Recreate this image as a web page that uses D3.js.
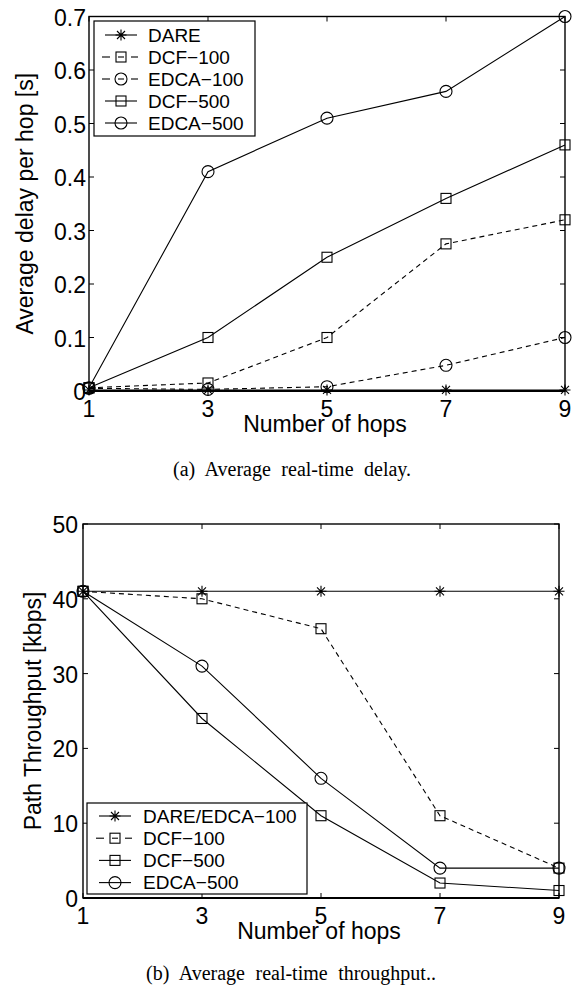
<!DOCTYPE html>
<html>
<head>
<meta charset="utf-8">
<script src="https://cdn.jsdelivr.net/npm/d3@7"></script>
<style>
  html, body { margin: 0; padding: 0; background: #fff; }
  svg { display: block; }
</style>
</head>
<body>
<svg id="fig" width="580" height="990"></svg>
<script>
// ---- data -------------------------------------------------------------
const hops = [1, 3, 5, 7, 9];

// (a) average delay per hop [s]
const delayDARE    = [0.002, 0.002, 0.002, 0.002, 0.002];
const delayDCF100  = [0.006, 0.015, 0.100, 0.275, 0.320];
const delayEDCA100 = [0.005, 0.003, 0.008, 0.048, 0.100];
const delayDCF500  = [0.006, 0.100, 0.250, 0.360, 0.460];
const delayEDCA500 = [0.006, 0.410, 0.510, 0.560, 0.700];
const delayTicks   = [0, 0.1, 0.2, 0.3, 0.4, 0.5, 0.6, 0.7];

// (b) path throughput [kbps]
const thrDARE    = [41, 41, 41, 41, 41];
const thrDCF100  = [41, 40, 36, 11, 4];
const thrDCF500  = [41, 24, 11, 2, 1];
const thrEDCA500 = [41, 31, 16, 4, 4];
const thrTicks   = [0, 10, 20, 30, 40, 50];

// ---- drawing helpers --------------------------------------------------
const SANS = "'Liberation Sans', Arial, Helvetica, sans-serif";
const SERIF = "'Liberation Serif', 'Times New Roman', Times, serif";
const svg = d3.select("#fig");

function marker(g, type, x, y) {
  const m = g.append("g").attr("transform", `translate(${x},${y})`)
    .attr("fill", "none").attr("stroke", "#000").attr("stroke-width", 1.1);
  if (type === "square") {
    m.append("rect").attr("x", -5).attr("y", -5).attr("width", 10).attr("height", 10);
  } else if (type === "circle") {
    m.append("circle").attr("r", 6);
  } else if (type === "star") {
    const a = 5.5, d = 4;
    m.append("path").attr("d",
      `M${-a},0H${a}M0,${-a}V${a}M${-d},${-d}L${d},${d}M${-d},${d}L${d},${-d}`);
  }
}

function panel(opt) {
  const x = d3.scaleLinear().domain([1, 9]).range([opt.left, opt.right]);
  const y = d3.scaleLinear().domain(opt.yDomain).range([opt.bottom, opt.top]);
  const g = svg.append("g");

  // series
  const line = d3.line().x((d, i) => x(hops[i])).y(d => y(d));
  opt.series.forEach(s => {
    g.append("path").datum(s.values).attr("d", line)
      .attr("fill", "none").attr("stroke", "#000").attr("stroke-width", 1.1)
      .attr("stroke-dasharray", s.dashed ? "5,4" : null);
    s.values.forEach((v, i) => marker(g, s.marker, x(hops[i]), y(v)));
  });

  // box with inward ticks on all four sides
  const tl = 5;
  const ax = svg.append("g").attr("stroke", "#000").attr("fill", "none");
  ax.append("rect").attr("x", opt.left).attr("y", opt.top)
    .attr("width", opt.right - opt.left).attr("height", opt.bottom - opt.top)
    .attr("stroke-width", 1.4);
  ax.append("line").attr("x1", opt.left).attr("x2", opt.right)
    .attr("y1", opt.bottom).attr("y2", opt.bottom).attr("stroke-width", 2);
  hops.forEach(h => {
    ax.append("line").attr("x1", x(h)).attr("x2", x(h))
      .attr("y1", opt.bottom).attr("y2", opt.bottom - tl).attr("stroke-width", 1);
    ax.append("line").attr("x1", x(h)).attr("x2", x(h))
      .attr("y1", opt.top).attr("y2", opt.top + tl).attr("stroke-width", 1);
  });
  opt.yTicks.forEach(t => {
    ax.append("line").attr("x1", opt.left).attr("x2", opt.left + tl)
      .attr("y1", y(t)).attr("y2", y(t)).attr("stroke-width", 1);
    ax.append("line").attr("x1", opt.right).attr("x2", opt.right - tl)
      .attr("y1", y(t)).attr("y2", y(t)).attr("stroke-width", 1);
  });

  // tick labels
  const lab = svg.append("g").attr("font-family", SANS).attr("font-size", 23).attr("fill", "#000");
  hops.forEach(h => lab.append("text").attr("x", x(h)).attr("y", opt.bottom + 25.5)
    .attr("text-anchor", "middle").text(h));
  opt.yTicks.forEach(t => lab.append("text").attr("x", opt.left - opt.yLabelGap)
    .attr("y", y(t) + 9).attr("text-anchor", "end").text(String(t)));

  // axis titles
  lab.append("text").attr("x", (opt.left + opt.right) / 2 - 2).attr("y", opt.bottom + 41)
    .attr("text-anchor", "middle").text("Number of hops");
  lab.append("text")
    .attr("transform", `translate(${opt.yTitleX},${(opt.top + opt.bottom) / 2}) rotate(-90)`)
    .attr("text-anchor", "middle").text(opt.yTitle);

  // legend
  const L = opt.legend;
  const lg = svg.append("g");
  lg.append("rect").attr("x", L.x0).attr("y", L.y0).attr("width", L.x1 - L.x0)
    .attr("height", L.y1 - L.y0).attr("fill", "#fff").attr("stroke", "#000").attr("stroke-width", 1.2);
  opt.series.forEach((s, i) => {
    const cy = L.firstY + i * L.step;
    if (s.dashed) {
      [[L.lineX0 - 3, L.lineX0 + 5], [L.markX - 3, L.markX + 3], [L.lineX1 - 6, L.lineX1 + 1]]
        .forEach(p => lg.append("line").attr("x1", p[0]).attr("x2", p[1]).attr("y1", cy).attr("y2", cy)
          .attr("stroke", "#000").attr("stroke-width", 1.1));
    } else {
      lg.append("line").attr("x1", L.lineX0).attr("x2", L.lineX1).attr("y1", cy).attr("y2", cy)
        .attr("stroke", "#000").attr("stroke-width", 1.1);
    }
    marker(lg, s.marker, L.markX, cy);
    lg.append("text").attr("x", L.textX).attr("y", cy + 6.8)
      .attr("font-family", SANS).attr("font-size", 19).text(s.name);
  });

  // caption
  svg.append("text").attr("x", opt.captionX).attr("y", opt.captionY)
    .attr("font-family", SERIF).attr("font-size", 20).attr("word-spacing", 5.5)
    .text(opt.caption);
}

// ---- (a) delay --------------------------------------------------------
panel({
  left: 89, right: 565, top: 16.5, bottom: 391,
  yDomain: [0, 0.7], yTicks: delayTicks, yLabelGap: 3,
  yTitle: "Average delay per hop [s]", yTitleX: 33,
  series: [
    { name: "DARE",     values: delayDARE,    marker: "star",   dashed: false },
    { name: "DCF\u2212100",  values: delayDCF100,  marker: "square", dashed: true },
    { name: "EDCA\u2212100", values: delayEDCA100, marker: "circle", dashed: true },
    { name: "DCF\u2212500",  values: delayDCF500,  marker: "square", dashed: false },
    { name: "EDCA\u2212500", values: delayEDCA500, marker: "circle", dashed: false }
  ],
  legend: { x0: 94, x1: 255, y0: 21, y1: 136, firstY: 35, step: 22,
            lineX0: 105, lineX1: 137, markX: 121, textX: 148 },
  caption: "(a) Average real-time delay.", captionX: 173, captionY: 476
});

// ---- (b) throughput ---------------------------------------------------
panel({
  left: 83, right: 559, top: 524, bottom: 898,
  yDomain: [0, 50], yTicks: thrTicks, yLabelGap: 5,
  yTitle: "Path Throughput [kbps]", yTitleX: 41,
  series: [
    { name: "DARE/EDCA\u2212100", values: thrDARE,    marker: "star",   dashed: false },
    { name: "DCF\u2212100",       values: thrDCF100,  marker: "square", dashed: true },
    { name: "DCF\u2212500",       values: thrDCF500,  marker: "square", dashed: false },
    { name: "EDCA\u2212500",      values: thrEDCA500, marker: "circle", dashed: false }
  ],
  legend: { x0: 87, x1: 307, y0: 803, y1: 894, firstY: 816, step: 22.2,
            lineX0: 99, lineX1: 131, markX: 115, textX: 143 },
  caption: "(b) Average real-time throughput..", captionX: 146, captionY: 980
});
</script>
</body>
</html>
